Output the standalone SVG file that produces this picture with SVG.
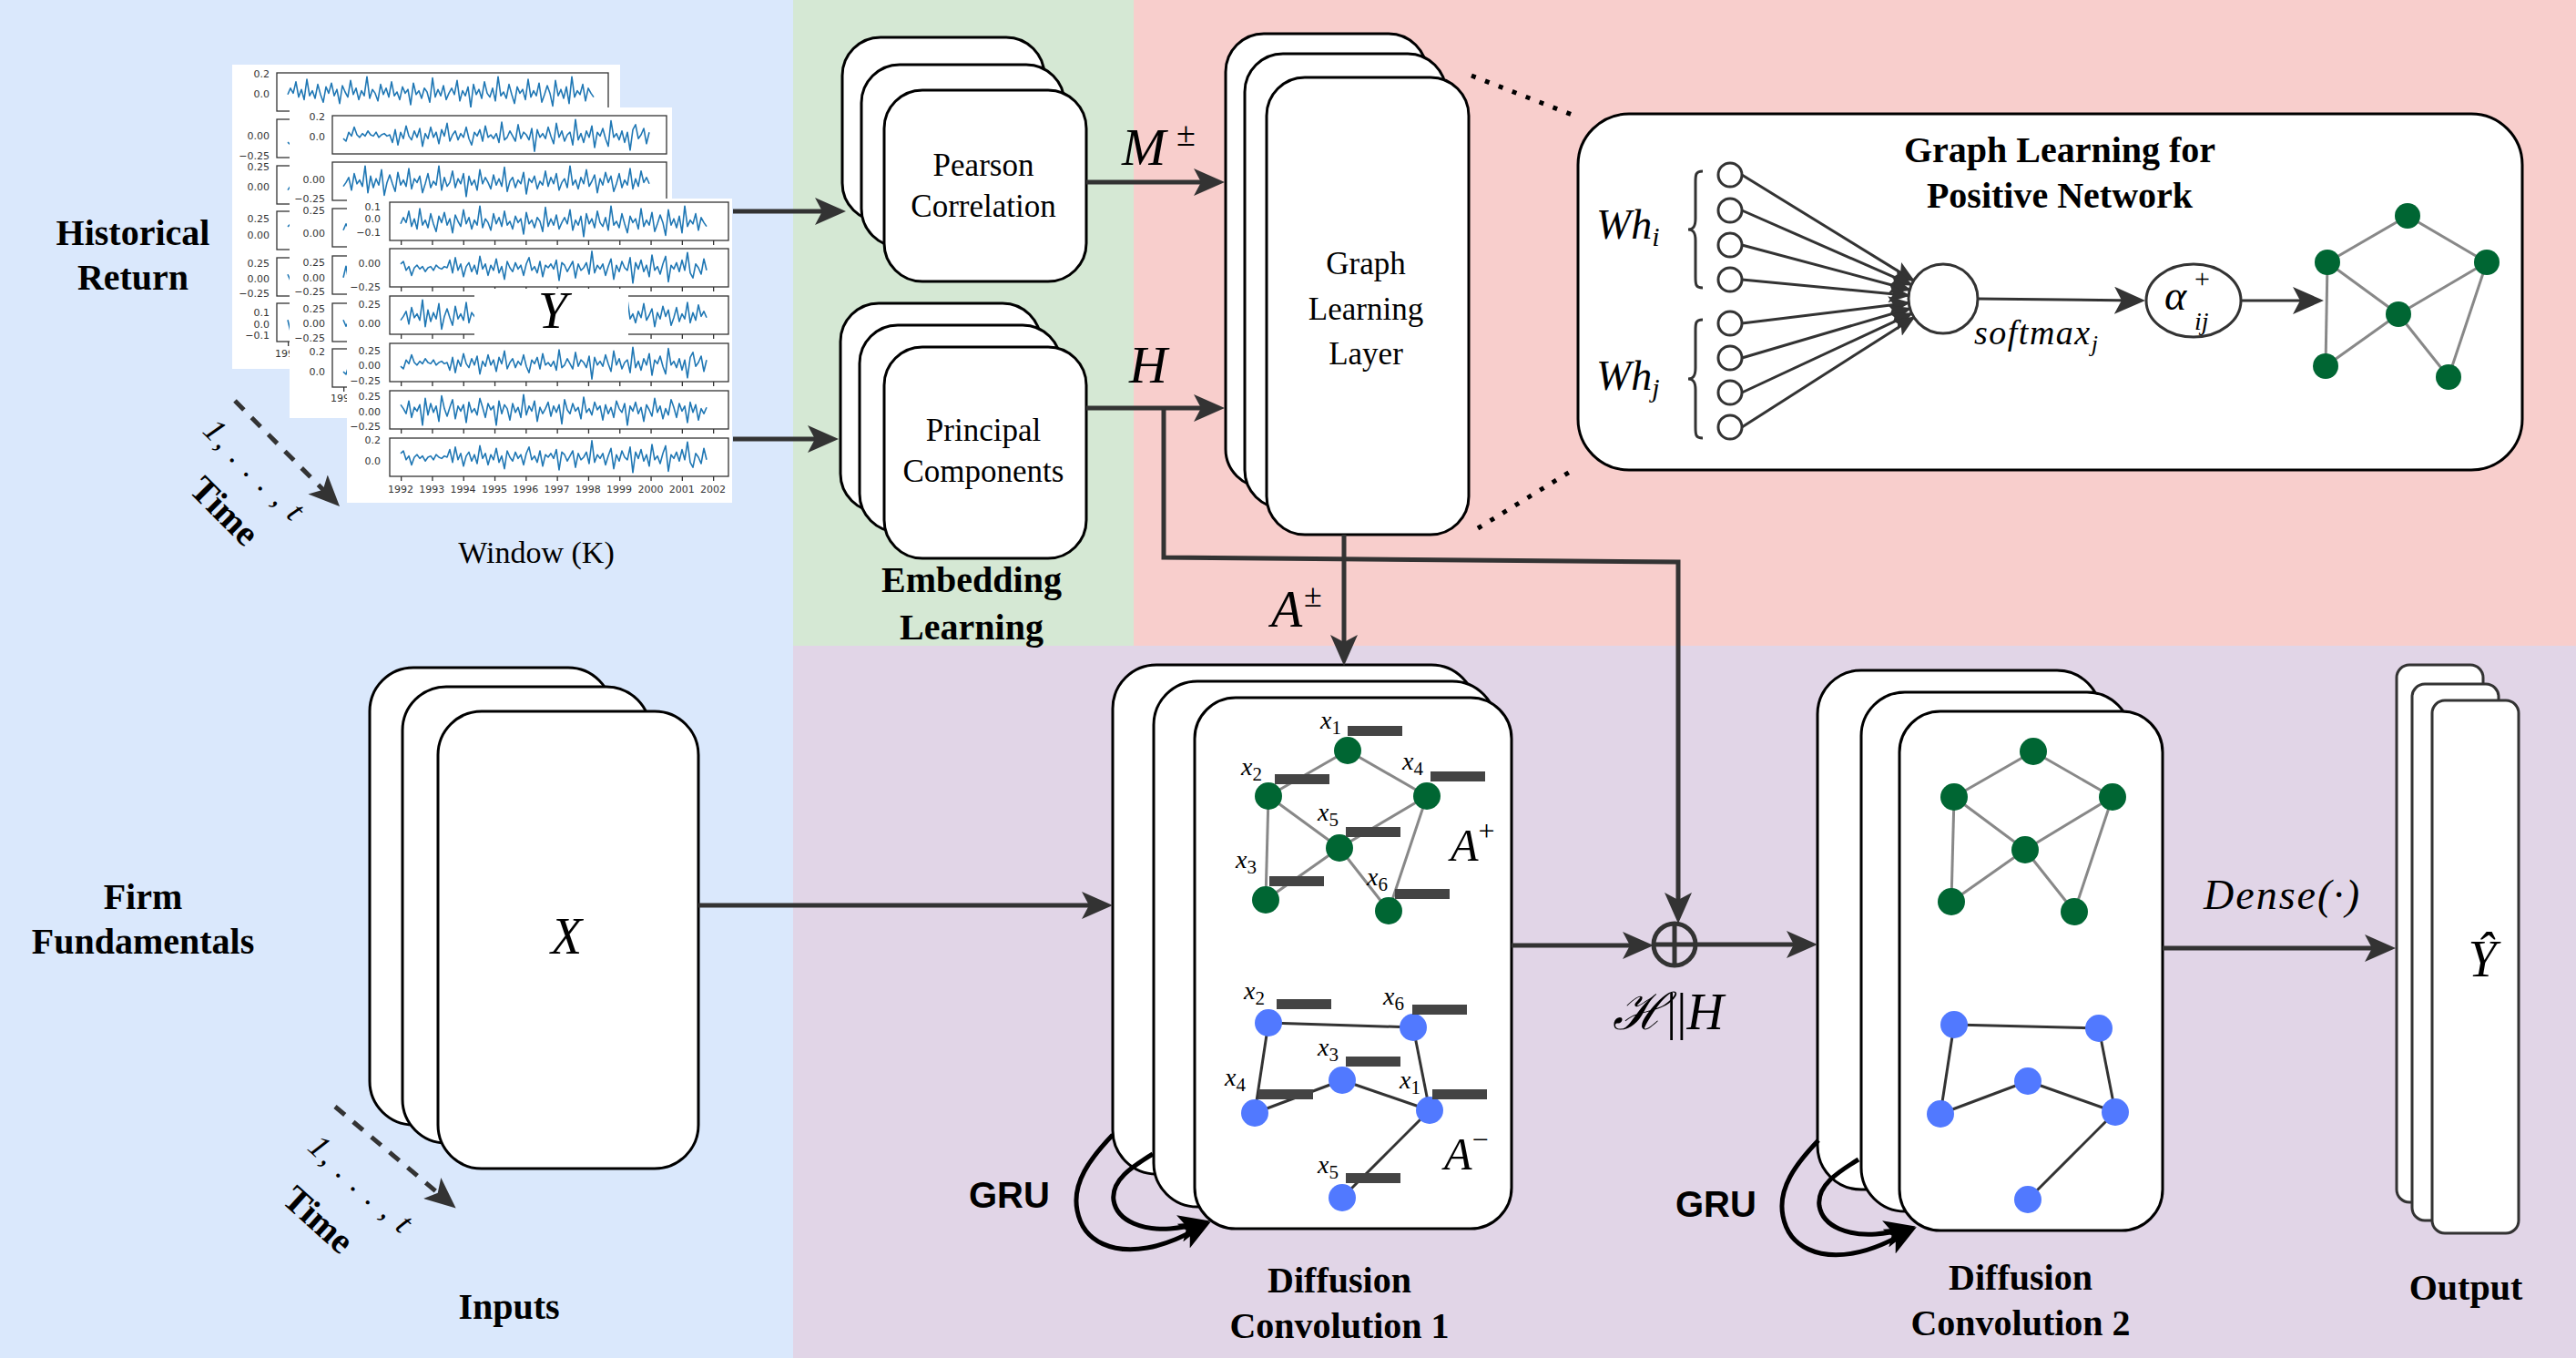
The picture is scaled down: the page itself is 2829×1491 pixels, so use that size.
<svg xmlns="http://www.w3.org/2000/svg" xmlns:xlink="http://www.w3.org/1999/xlink" width="2829" height="1491" viewBox="0 0 2829 1491">
<style>
.box{fill:#fff;stroke:#000;stroke-width:3}
.obox{fill:#fff;stroke:#333;stroke-width:3}
.sheet{fill:#fff}
.frame{fill:none;stroke:#333;stroke-width:1.3}
.xt{fill:none;stroke:#333;stroke-width:5;stroke-dasharray:1.3 33}
.wave{fill:none;stroke:#1f77b4;stroke-width:1.6;stroke-linejoin:round;vector-effect:non-scaling-stroke}
.tk{font-family:"DejaVu Sans",sans-serif;font-size:11px;fill:#333}
.tkr{text-anchor:end}
.tkm{text-anchor:middle}
.lbl{font-family:"Liberation Serif",serif;font-size:35px;fill:#000;text-anchor:middle}
.bold{font-family:"Liberation Serif",serif;font-weight:bold;font-size:40px;fill:#000;text-anchor:middle}
.math{font-family:"Liberation Serif","DejaVu Serif",serif;font-style:italic;fill:#000}
.up{font-style:normal}
.gru{font-family:"Liberation Sans",Arial,sans-serif;font-weight:bold;font-size:40px;fill:#000}
.conn{fill:none;stroke:#333;stroke-width:5}
.thin{fill:none;stroke:#333;stroke-width:3}
.loop{fill:none;stroke:#000;stroke-width:5}
.dash{fill:none;stroke:#333;stroke-width:5;stroke-dasharray:14 12}
.dots{fill:none;stroke:#000;stroke-width:5;stroke-dasharray:5 11}
.ge{stroke:#888;stroke-width:3}
.be{stroke:#333;stroke-width:3}
.gn{fill:#006633}
.bn{fill:#5179ff}
.bar{fill:#444}
.neu{fill:#fff;stroke:#333;stroke-width:3}
</style>
<defs>
<marker id="arr" markerUnits="userSpaceOnUse" markerWidth="34" markerHeight="30" viewBox="0 0 34 30" refX="24" refY="15" orient="auto"><path d="M0,0 L34,15 L0,30 L8,15 Z" fill="#333"/></marker>
<marker id="arrS" markerUnits="userSpaceOnUse" markerWidth="24" markerHeight="20" viewBox="0 0 24 20" refX="22" refY="10" orient="auto"><path d="M0,0 L24,10 L0,20 L5,10 Z" fill="#333"/></marker>
<marker id="arrK" markerUnits="userSpaceOnUse" markerWidth="34" markerHeight="30" viewBox="0 0 34 30" refX="24" refY="15" orient="auto"><path d="M0,0 L34,15 L0,30 L8,15 Z" fill="#000"/></marker>
<path id="wA" class="wave" d="M0,2 L3,-3 6,1 9,-8 12,4 15,-2 18,6 21,-10 24,3 27,-1 30,5 33,-6 36,2 39,8 42,-4 45,1 48,-7 51,3 54,-2 57,9 60,-5 63,0 66,4 69,-9 72,2 75,-3 78,6 81,-1 84,3 87,-12 90,5 93,-2 96,1 99,7 102,-6 105,2 108,-3 111,4 114,-8 117,3 120,0 123,6 126,-4 129,1 132,-2 135,10 138,-7 141,2 144,-1 147,5 150,-3 153,0 156,8 159,-11 162,4 165,-2 168,3 171,-5 174,6 177,1 180,-3 183,2 186,-9 189,7 192,-1 195,3 198,-4 201,12 204,-6 207,2 210,-2 213,5 216,-8 219,1 222,4 225,-3 228,7 231,-12 234,3 237,0 240,5 243,-6 246,2 249,9 252,-4 255,1 258,-2 261,6 264,-10 267,4 270,-1 273,3 276,-7 279,8 282,2 285,-5 288,1 291,11 294,-9 297,3 300,-2 303,5 306,-4 309,9 312,-12 315,4 318,-1 321,2 324,-6 327,7 330,-3 333,1 336,4"/>
<path id="wB" class="wave" d="M0,3 L3,5 6,-2 9,1 12,-6 15,0 18,2 21,-1 24,1 27,-3 30,0 33,1 36,-2 39,2 42,0 45,-1 48,1 51,0 54,6 57,-4 60,8 63,-2 66,3 69,-7 72,1 75,4 78,-3 81,2 84,-5 87,9 90,-1 93,3 96,-6 99,2 102,-2 105,7 108,-4 111,1 114,-9 117,5 120,0 123,-3 126,4 129,-1 132,2 135,-6 138,3 141,8 144,-2 147,1 150,-4 153,5 156,-7 159,2 162,0 165,3 168,-1 171,6 174,-10 177,4 180,2 183,-3 186,1 189,5 192,-8 195,3 198,-2 201,0 204,4 207,-5 210,13 213,-4 216,2 219,-1 222,3 225,-6 228,1 231,7 234,-9 237,2 240,-3 243,5 246,0 249,-2 252,8 255,-12 258,4 261,-1 264,6 267,-3 270,2 273,-7 276,10 279,-2 282,1 285,-5 288,3 291,9 294,-11 297,2 300,-1 303,4 306,-3 309,6 312,-2 315,12 318,-4 321,-8 324,3 327,0 330,-5 333,7 336,-2"/>
</defs>

<g id="background">
<rect x="0" y="0" width="871" height="1491" fill="#dae8fc"/>
<rect x="871" y="0" width="374" height="709" fill="#d5e8d4"/>
<rect x="1245" y="0" width="1584" height="709" fill="#f8cecc"/>
<rect x="871" y="709" width="1958" height="782" fill="#e1d5e7"/>
</g>

<g id="historical-return">
<text class="bold" x="146" y="269" font-size="41">Historical</text>
<text class="bold" x="146" y="318" font-size="41">Return</text>
<rect class="sheet" x="255" y="71" width="426" height="334"/>
<g>
<rect class="frame" x="304" y="80" width="364" height="42"/>
<rect class="frame" x="304" y="131" width="364" height="42"/>
<rect class="frame" x="304" y="182" width="364" height="42"/>
<rect class="frame" x="304" y="232" width="364" height="42"/>
<rect class="frame" x="304" y="283" width="364" height="42"/>
<rect class="frame" x="304" y="333" width="364" height="42"/>
<use xlink:href="#wA" transform="translate(316,101) scale(1,1.4)"/>
<use xlink:href="#wB" transform="translate(316,152) scale(1,1.4)"/>
<use xlink:href="#wA" transform="translate(652,203) scale(-1,1.4)"/>
<use xlink:href="#wB" transform="translate(316,253) scale(1,-1.4)"/>
<use xlink:href="#wA" transform="translate(316,304) scale(1,-1.4)"/>
<use xlink:href="#wB" transform="translate(652,354) scale(-1,1.4)"/>
<path class="xt" d="M316,377.5 H666"/>
<text class="tk tkr" x="296" y="85">0.2</text><text class="tk tkr" x="296" y="107">0.0</text>
<text class="tk tkr" x="296" y="153">0.00</text><text class="tk tkr" x="296" y="175">−0.25</text>
<text class="tk tkr" x="296" y="187">0.25</text><text class="tk tkr" x="296" y="209">0.00</text>
<text class="tk tkr" x="296" y="244">0.25</text><text class="tk tkr" x="296" y="262">0.00</text>
<text class="tk tkr" x="296" y="293">0.25</text><text class="tk tkr" x="296" y="310">0.00</text><text class="tk tkr" x="296" y="326">−0.25</text>
<text class="tk tkr" x="296" y="347">0.1</text><text class="tk tkr" x="296" y="360">0.0</text><text class="tk tkr" x="296" y="372">−0.1</text>
<text class="tk tkm" x="316" y="392">1992</text>
</g>
<rect class="sheet" x="318" y="118" width="420" height="341"/>
<g>
<rect class="frame" x="365" y="127" width="367" height="42"/>
<rect class="frame" x="365" y="178" width="367" height="42"/>
<rect class="frame" x="365" y="229" width="367" height="42"/>
<rect class="frame" x="365" y="281" width="367" height="42"/>
<rect class="frame" x="365" y="333" width="367" height="42"/>
<rect class="frame" x="365" y="383" width="367" height="42"/>
<use xlink:href="#wB" transform="translate(377,148) scale(1,1.4)"/>
<use xlink:href="#wA" transform="translate(713,199) scale(-1,1.4)"/>
<use xlink:href="#wA" transform="translate(377,250) scale(1,1.4)"/>
<use xlink:href="#wB" transform="translate(713,302) scale(-1,-1.4)"/>
<use xlink:href="#wA" transform="translate(377,354) scale(1,-1.4)"/>
<use xlink:href="#wB" transform="translate(377,404) scale(1,1.4)"/>
<path class="xt" d="M377,427.5 H730"/>
<text class="tk tkr" x="357" y="132">0.2</text><text class="tk tkr" x="357" y="154">0.0</text>
<text class="tk tkr" x="357" y="201">0.00</text><text class="tk tkr" x="357" y="222">−0.25</text>
<text class="tk tkr" x="357" y="235">0.25</text><text class="tk tkr" x="357" y="260">0.00</text>
<text class="tk tkr" x="357" y="292">0.25</text><text class="tk tkr" x="357" y="309">0.00</text><text class="tk tkr" x="357" y="324">−0.25</text>
<text class="tk tkr" x="357" y="343">0.25</text><text class="tk tkr" x="357" y="359">0.00</text><text class="tk tkr" x="357" y="375">−0.25</text>
<text class="tk tkr" x="357" y="390">0.2</text><text class="tk tkr" x="357" y="412">0.0</text>
<text class="tk tkm" x="377" y="441">1992</text>
</g>
<rect class="sheet" x="381" y="218" width="423" height="334"/>
<g>
<rect class="frame" x="428" y="222" width="372" height="42"/>
<rect class="frame" x="428" y="273" width="372" height="42"/>
<rect class="frame" x="428" y="325" width="372" height="42"/>
<rect class="frame" x="428" y="377" width="372" height="42"/>
<rect class="frame" x="428" y="429" width="372" height="42"/>
<rect class="frame" x="428" y="481" width="372" height="42"/>
<use xlink:href="#wA" transform="translate(440,243) scale(1,1.4)"/>
<use xlink:href="#wB" transform="translate(440,294) scale(1,-1.4)"/>
<use xlink:href="#wA" transform="translate(776,346) scale(-1,1.4)"/>
<use xlink:href="#wB" transform="translate(440,398) scale(1,1.4)"/>
<use xlink:href="#wA" transform="translate(776,450) scale(-1,-1.4)"/>
<use xlink:href="#wB" transform="translate(440,502) scale(1,-1.4)"/>
<path class="xt" d="M440,266.5 H785 M440,317.5 H785 M440,369.5 H785 M440,421.5 H785 M440,473.5 H785 M440,525.5 H785"/>
<text class="tk tkr" x="418" y="231">0.1</text><text class="tk tkr" x="418" y="244">0.0</text><text class="tk tkr" x="418" y="259">−0.1</text>
<text class="tk tkr" x="418" y="293">0.00</text><text class="tk tkr" x="418" y="319">−0.25</text>
<text class="tk tkr" x="418" y="338">0.25</text><text class="tk tkr" x="418" y="359">0.00</text>
<text class="tk tkr" x="418" y="389">0.25</text><text class="tk tkr" x="418" y="405">0.00</text><text class="tk tkr" x="418" y="422">−0.25</text>
<text class="tk tkr" x="418" y="439">0.25</text><text class="tk tkr" x="418" y="456">0.00</text><text class="tk tkr" x="418" y="472">−0.25</text>
<text class="tk tkr" x="418" y="487">0.2</text><text class="tk tkr" x="418" y="510">0.0</text>
<text class="tk tkm" x="440" y="541">1992</text><text class="tk tkm" x="474.3" y="541">1993</text><text class="tk tkm" x="508.6" y="541">1994</text><text class="tk tkm" x="542.9" y="541">1995</text><text class="tk tkm" x="577.2" y="541">1996</text><text class="tk tkm" x="611.5" y="541">1997</text><text class="tk tkm" x="645.8" y="541">1998</text><text class="tk tkm" x="680.1" y="541">1999</text><text class="tk tkm" x="714.4" y="541">2000</text><text class="tk tkm" x="748.7" y="541">2001</text><text class="tk tkm" x="783" y="541">2002</text>
</g>
<rect class="sheet" x="521" y="317" width="169" height="59"/>
<text class="math" x="607" y="360" font-size="58" text-anchor="middle">Y</text>
<text x="589" y="618" font-family="Liberation Serif, serif" font-size="34" text-anchor="middle">Window (K)</text>
<text class="math" transform="translate(280,516) rotate(45)" x="0" y="12" font-size="36" letter-spacing="2" text-anchor="middle">1, . . . , t</text>
<text class="bold" transform="translate(246,562) rotate(45)" x="0" y="12" font-size="34">Time</text>
</g>

<g id="inputs">
<text class="bold" x="157" y="998" font-size="41">Firm</text>
<text class="bold" x="157" y="1047" font-size="41">Fundamentals</text>
<rect class="box" x="406" y="733" width="266" height="502" rx="48"/>
<rect class="box" x="442" y="754" width="272" height="501" rx="48"/>
<rect class="box" x="481" y="781" width="286" height="502" rx="48"/>
<text class="math" x="622" y="1047" font-size="56" text-anchor="middle">X</text>
<text class="math" transform="translate(397,1300) rotate(42)" x="0" y="12" font-size="36" letter-spacing="2" text-anchor="middle">1, . . . , t</text>
<text class="bold" transform="translate(349,1340) rotate(42)" x="0" y="12" font-size="34">Time</text>
<text class="bold" x="559" y="1448">Inputs</text>
</g>

<g id="pearson">
<rect class="box" x="925" y="41" width="222" height="202" rx="42"/>
<rect class="box" x="946" y="71" width="223" height="200" rx="42"/>
<rect class="box" x="971" y="99" width="222" height="210" rx="42"/>
<text class="lbl" x="1080" y="193">Pearson</text>
<text class="lbl" x="1080" y="238">Correlation</text>
</g>
<g id="principal">
<rect class="box" x="923" y="333" width="220" height="229" rx="42"/>
<rect class="box" x="944" y="357" width="221" height="227" rx="42"/>
<rect class="box" x="971" y="381" width="222" height="232" rx="42"/>
<text class="lbl" x="1080" y="484">Principal</text>
<text class="lbl" x="1080" y="529">Components</text>
</g>
<g id="embedding-label">
<text class="bold" x="1067" y="650">Embedding</text>
<text class="bold" x="1067" y="702">Learning</text>
</g>

<g id="graph-learning-layer">
<rect class="box" x="1346" y="37" width="221" height="498" rx="42"/>
<rect class="box" x="1367" y="59" width="221" height="499" rx="42"/>
<rect class="box" x="1391" y="85" width="222" height="502" rx="42"/>
<text class="lbl" x="1500" y="301" font-size="41">Graph</text>
<text class="lbl" x="1500" y="351" font-size="41">Learning</text>
<text class="lbl" x="1500" y="400" font-size="41">Layer</text>
</g>

<g id="graph-learning-inset">
<rect class="box" x="1733" y="125" width="1037" height="391" rx="56"/>
<text class="bold" x="2262" y="178">Graph Learning for</text>
<text class="bold" x="2262" y="228">Positive Network</text>
<text class="math" x="1753" y="262" font-size="46">Wh<tspan font-size="30" dy="8">i</tspan></text>
<text class="math" x="1753" y="428" font-size="46">Wh<tspan font-size="30" dy="8">j</tspan></text>
<path class="thin" stroke-width="2.5" d="M1870,188 C1862,188 1862,192 1862,200 L1862,240 C1862,248 1860,252 1854,252 C1860,252 1862,256 1862,264 L1862,304 C1862,312 1862,316 1870,316"/>
<path class="thin" stroke-width="2.5" d="M1870,351 C1862,351 1862,355 1862,363 L1862,404 C1862,412 1860,416 1854,416 C1860,416 1862,420 1862,428 L1862,469 C1862,477 1862,481 1870,481"/>
<g class="thin">
<path marker-end="url(#arrS)" d="M1913,192 L2101.6,308.1"/>
<path marker-end="url(#arrS)" d="M1913,231 L2099.2,312.7"/>
<path marker-end="url(#arrS)" d="M1913,269 L2097.3,318.2"/>
<path marker-end="url(#arrS)" d="M1913,307 L2096.2,324.4"/>
<path marker-end="url(#arrS)" d="M1913,355 L2096.3,332.6"/>
<path marker-end="url(#arrS)" d="M1913,393 L2097.6,338.7"/>
<path marker-end="url(#arrS)" d="M1913,431 L2099.6,344.1"/>
<path marker-end="url(#arrS)" d="M1913,469 L2102,348.4"/>
</g>
<circle class="neu" cx="1900" cy="192" r="13"/><circle class="neu" cx="1900" cy="231" r="13"/><circle class="neu" cx="1900" cy="269" r="13"/><circle class="neu" cx="1900" cy="307" r="13"/>
<circle class="neu" cx="1900" cy="355" r="13"/><circle class="neu" cx="1900" cy="393" r="13"/><circle class="neu" cx="1900" cy="431" r="13"/><circle class="neu" cx="1900" cy="469" r="13"/>
<circle class="neu" cx="2134" cy="328" r="38"/>
<path class="thin" stroke-width="4" marker-end="url(#arr)" d="M2172,328 L2346,330"/>
<text class="math" x="2168" y="378" font-size="38" letter-spacing="1.5">softmax<tspan font-size="26" dy="8">j</tspan></text>
<ellipse class="neu" cx="2409" cy="330" rx="52" ry="40"/>
<text class="math" x="2377" y="340" font-size="46">α</text>
<text class="math up" x="2410" y="316" font-size="30">+</text>
<text class="math" x="2410" y="362" font-size="28">ij</text>
<path class="thin" stroke-width="4" marker-end="url(#arr)" d="M2461,330 L2542,330"/>
<g class="ge">
<line x1="2644" y1="237" x2="2556" y2="288"/><line x1="2644" y1="237" x2="2731" y2="288"/>
<line x1="2556" y1="288" x2="2634" y2="345"/><line x1="2731" y1="288" x2="2634" y2="345"/>
<line x1="2556" y1="288" x2="2554" y2="402"/><line x1="2634" y1="345" x2="2554" y2="402"/>
<line x1="2634" y1="345" x2="2689" y2="414"/><line x1="2731" y1="288" x2="2689" y2="414"/>
</g>
<g class="gn">
<circle cx="2644" cy="237" r="14"/><circle cx="2556" cy="288" r="14"/><circle cx="2731" cy="288" r="14"/>
<circle cx="2634" cy="345" r="14"/><circle cx="2554" cy="402" r="14"/><circle cx="2689" cy="414" r="14"/>
</g>
</g>

<g id="diffusion-conv-1">
<rect class="box" x="1222" y="730" width="398" height="559" rx="48"/>
<rect class="box" x="1267" y="748" width="376" height="577" rx="48"/>
<rect class="box" x="1312" y="766" width="348" height="583" rx="45"/>
<g class="ge">
<line x1="1480" y1="824" x2="1393" y2="874"/><line x1="1480" y1="824" x2="1567" y2="874"/>
<line x1="1393" y1="874" x2="1471" y2="931"/><line x1="1567" y1="874" x2="1471" y2="931"/>
<line x1="1393" y1="874" x2="1390" y2="988"/><line x1="1471" y1="931" x2="1390" y2="988"/>
<line x1="1471" y1="931" x2="1525" y2="1000"/><line x1="1567" y1="874" x2="1525" y2="1000"/>
</g>
<g class="gn">
<circle cx="1480" cy="824" r="15"/><circle cx="1393" cy="874" r="15"/><circle cx="1567" cy="874" r="15"/>
<circle cx="1471" cy="931" r="15"/><circle cx="1390" cy="988" r="15"/><circle cx="1525" cy="1000" r="15"/>
</g>
<g class="bar">
<rect x="1480" y="797" width="60" height="11"/><rect x="1400" y="850" width="60" height="11"/><rect x="1571" y="847" width="60" height="11"/>
<rect x="1478" y="908" width="60" height="11"/><rect x="1394" y="962" width="60" height="11"/><rect x="1532" y="976" width="60" height="11"/>
</g>
<g class="math" font-size="28">
<text x="1450" y="800">x<tspan class="up" font-size="21" dy="6">1</tspan></text>
<text x="1363" y="851">x<tspan class="up" font-size="21" dy="6">2</tspan></text>
<text x="1540" y="845">x<tspan class="up" font-size="21" dy="6">4</tspan></text>
<text x="1447" y="901">x<tspan class="up" font-size="21" dy="6">5</tspan></text>
<text x="1357" y="953">x<tspan class="up" font-size="21" dy="6">3</tspan></text>
<text x="1501" y="972">x<tspan class="up" font-size="21" dy="6">6</tspan></text>
</g>
<text class="math" x="1593" y="945" font-size="50">A<tspan class="up" font-size="32" dy="-22">+</tspan></text>
<g class="be">
<line x1="1393" y1="1123" x2="1552" y2="1128"/><line x1="1393" y1="1123" x2="1378" y2="1222"/>
<line x1="1378" y1="1222" x2="1474" y2="1186"/><line x1="1474" y1="1186" x2="1570" y2="1219"/>
<line x1="1552" y1="1128" x2="1570" y2="1219"/><line x1="1570" y1="1219" x2="1474" y2="1315"/>
</g>
<g class="bn">
<circle cx="1393" cy="1123" r="15"/><circle cx="1552" cy="1128" r="15"/><circle cx="1474" cy="1186" r="15"/>
<circle cx="1378" cy="1222" r="15"/><circle cx="1570" cy="1219" r="15"/><circle cx="1474" cy="1315" r="15"/>
</g>
<g class="bar">
<rect x="1402" y="1097" width="60" height="11"/><rect x="1551" y="1103" width="60" height="11"/><rect x="1478" y="1160" width="60" height="11"/>
<rect x="1382" y="1196" width="60" height="11"/><rect x="1573" y="1196" width="60" height="11"/><rect x="1478" y="1288" width="60" height="11"/>
</g>
<g class="math" font-size="28">
<text x="1366" y="1097">x<tspan class="up" font-size="21" dy="6">2</tspan></text>
<text x="1519" y="1103">x<tspan class="up" font-size="21" dy="6">6</tspan></text>
<text x="1447" y="1159">x<tspan class="up" font-size="21" dy="6">3</tspan></text>
<text x="1345" y="1192">x<tspan class="up" font-size="21" dy="6">4</tspan></text>
<text x="1537" y="1195">x<tspan class="up" font-size="21" dy="6">1</tspan></text>
<text x="1447" y="1288">x<tspan class="up" font-size="21" dy="6">5</tspan></text>
</g>
<text class="math" x="1586" y="1284" font-size="50">A<tspan class="up" font-size="32" dy="-22">−</tspan></text>
<text class="gru" x="1064" y="1326">GRU</text>
<text class="bold" x="1471" y="1419">Diffusion</text>
<text class="bold" x="1471" y="1469">Convolution 1</text>
</g>

<g id="concat">
<circle cx="1839" cy="1037" r="23" fill="none" stroke="#333" stroke-width="5"/>
<path d="M1839,1014 V1060 M1816,1037 H1862" stroke="#333" stroke-width="5"/>
<text class="math" x="1771" y="1130" font-size="56">ℋ<tspan class="up">||</tspan>H</text>
</g>

<g id="diffusion-conv-2">
<rect class="box" x="1996" y="736" width="311" height="570" rx="48"/>
<rect class="box" x="2044" y="760" width="296" height="570" rx="48"/>
<rect class="box" x="2086" y="781" width="289" height="570" rx="45"/>
<g class="ge">
<line x1="2233" y1="825" x2="2146" y2="875"/><line x1="2233" y1="825" x2="2320" y2="875"/>
<line x1="2146" y1="875" x2="2224" y2="933"/><line x1="2320" y1="875" x2="2224" y2="933"/>
<line x1="2146" y1="875" x2="2143" y2="990"/><line x1="2224" y1="933" x2="2143" y2="990"/>
<line x1="2224" y1="933" x2="2278" y2="1001"/><line x1="2320" y1="875" x2="2278" y2="1001"/>
</g>
<g class="gn">
<circle cx="2233" cy="825" r="15"/><circle cx="2146" cy="875" r="15"/><circle cx="2320" cy="875" r="15"/>
<circle cx="2224" cy="933" r="15"/><circle cx="2143" cy="990" r="15"/><circle cx="2278" cy="1001" r="15"/>
</g>
<g class="be">
<line x1="2146" y1="1125" x2="2305" y2="1129"/><line x1="2146" y1="1125" x2="2131" y2="1223"/>
<line x1="2131" y1="1223" x2="2227" y2="1187"/><line x1="2227" y1="1187" x2="2323" y2="1221"/>
<line x1="2305" y1="1129" x2="2323" y2="1221"/><line x1="2323" y1="1221" x2="2227" y2="1317"/>
</g>
<g class="bn">
<circle cx="2146" cy="1125" r="15"/><circle cx="2305" cy="1129" r="15"/><circle cx="2227" cy="1187" r="15"/>
<circle cx="2131" cy="1223" r="15"/><circle cx="2323" cy="1221" r="15"/><circle cx="2227" cy="1317" r="15"/>
</g>
<text class="gru" x="1840" y="1336">GRU</text>
<text class="bold" x="2219" y="1416">Diffusion</text>
<text class="bold" x="2219" y="1466">Convolution 2</text>
</g>

<g id="output">
<rect class="obox" x="2632" y="730" width="95" height="590" rx="14"/>
<rect class="obox" x="2649" y="751" width="95" height="589" rx="14"/>
<rect class="obox" x="2671" y="769" width="95" height="585" rx="14"/>
<text class="math" x="2726" y="1072" font-size="56" text-anchor="middle">Ŷ</text>
<text class="bold" x="2708" y="1427">Output</text>
</g>

<g id="connectors">
<path class="conn" marker-end="url(#arr)" d="M805,232 H919"/>
<path class="conn" marker-end="url(#arr)" d="M805,482 H911"/>
<path class="conn" marker-end="url(#arr)" d="M1193,200 H1335"/>
<path class="conn" marker-end="url(#arr)" d="M1193,448 H1335"/>
<path class="conn" marker-end="url(#arr)" d="M1278,448 V612 L1843,617 V1004"/>
<path class="conn" marker-end="url(#arr)" d="M1476,587 V721"/>
<path class="conn" marker-end="url(#arr)" d="M767,994 H1212"/>
<path class="conn" marker-end="url(#arr)" d="M1660,1038 H1806"/>
<path class="conn" marker-end="url(#arr)" d="M1862,1037 H1986"/>
<path class="conn" marker-end="url(#arr)" d="M2375,1041 H2621"/>
<path class="dots" d="M1616,83 L1729,127"/>
<path class="dots" d="M1623,580 L1729,515"/>
<path class="dash" marker-end="url(#arr)" d="M258,440 L366,549"/>
<path class="dash" marker-end="url(#arr)" d="M368,1215 L493,1320"/>
<g id="gru-loop-2">
<path class="loop" marker-end="url(#arrK)" d="M1997,1252 C1972,1278 1952,1305 1958,1335 C1965,1372 2000,1382 2035,1376 C2058,1372 2075,1363 2096,1352"/>
<path class="loop" marker-end="url(#arrK)" d="M2041,1273 C2018,1287 1995,1302 1998,1324 C2002,1348 2032,1357 2060,1355 C2072,1354 2082,1352 2094,1349"/>
</g>
<g id="gru-loop-1" transform="translate(-775,-6)">
<path class="loop" marker-end="url(#arrK)" d="M1997,1252 C1972,1278 1952,1305 1958,1335 C1965,1372 2000,1382 2035,1376 C2058,1372 2075,1363 2096,1352"/>
<path class="loop" marker-end="url(#arrK)" d="M2041,1273 C2018,1287 1995,1302 1998,1324 C2002,1348 2032,1357 2060,1355 C2072,1354 2082,1352 2094,1349"/>
</g>
</g>

<g id="edge-labels">
<text class="math" x="1232" y="181" font-size="58">M</text>
<text class="math up" x="1292" y="160" font-size="38">±</text>
<text class="math" x="1240" y="420" font-size="58">H</text>
<text class="math" x="1396" y="688" font-size="56">A</text>
<text class="math up" x="1432" y="666" font-size="36">±</text>
<text class="math" x="2420" y="998" font-size="46" letter-spacing="2">Dense(·)</text>
</g>
</svg>
